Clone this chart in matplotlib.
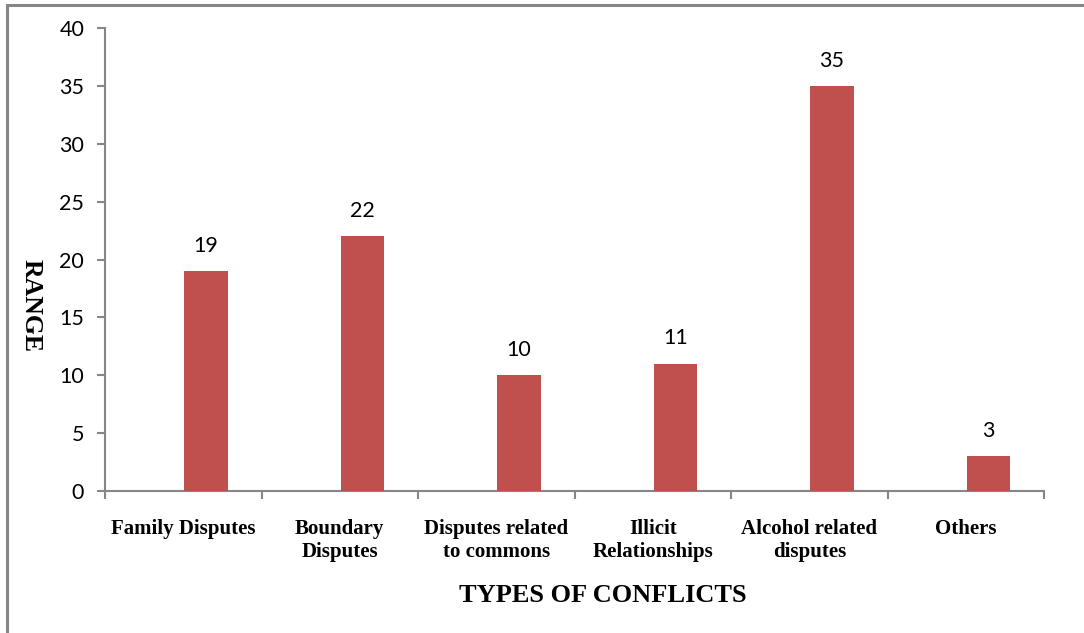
import numpy as np
import matplotlib
matplotlib.use("Agg")
import matplotlib.pyplot as plt
from matplotlib.patches import Rectangle

# conflict types and their counts
categories = ["Family Disputes", "Boundary\nDisputes", "Disputes related\nto commons",
              "Illicit\nRelationships", "Alcohol related\ndisputes", "Others"]
counts = [19, 22, 10, 11, 35, 3]
y_ticks = [0, 5, 10, 15, 20, 25, 30, 35, 40]

bar_color = "#C0504D"
axis_gray = "#868686"
serif = ["Liberation Serif", "DejaVu Serif"]
sans = ["Lato", "DejaVu Sans"]

fig = plt.figure(figsize=(10.84, 6.33), dpi=100)
ax = fig.add_axes([105 / 1084, 1 - 491 / 633, (1044 - 105) / 1084, (491 - 28) / 633])

# frame round the whole chart area (runs off the right and bottom edges)
fig.patches.append(Rectangle((6.5 / 1084, -0.2), 1.2, 1.2 - 4.5 / 633,
                             transform=fig.transFigure, fill=False,
                             edgecolor=axis_gray, linewidth=2.2))

n = len(categories)
x = np.arange(n)
# bars sit right of the category centre
bar_x = x + 0.145
bars = ax.bar(bar_x, counts, width=0.28, color=bar_color, zorder=3)

for bx, v in zip(bar_x, counts):
    ax.annotate(str(v), (bx, v), xytext=(0, 11), textcoords="offset points",
                ha="center", va="bottom", fontsize=15.5, family=sans)

ax.set_xlim(-0.5, n - 0.5)
ax.set_ylim(0, 40)
ax.set_yticks(y_ticks)
ax.set_yticklabels([str(t) for t in y_ticks], fontsize=15.5, family=sans)

# boundary ticks on the major locator, names on the minor one
ax.set_xticks(np.arange(n + 1) - 0.5)
ax.set_xticklabels([])
ax.set_xticks(x, minor=True)
ax.set_xticklabels(categories, minor=True, fontsize=15, fontweight="bold",
                   family=serif, linespacing=1.2)
ax.tick_params(axis="x", which="minor", length=0, pad=20)
ax.tick_params(axis="x", which="major", direction="out", length=6, color=axis_gray, width=1.5)
ax.tick_params(axis="y", direction="out", length=6, color=axis_gray, width=1.5, pad=9)

for side in ["top", "right"]:
    ax.spines[side].set_visible(False)
for side in ["left", "bottom"]:
    ax.spines[side].set_color(axis_gray)
    ax.spines[side].set_linewidth(1.5)

fig.text(603 / 1084, 1 - 596 / 633, "TYPES OF CONFLICTS", ha="center", va="center",
         fontsize=19, fontweight="bold", family=serif)
fig.text(31 / 1084, 1 - 306 / 633, "RANGE", ha="center", va="center", rotation=270,
         fontsize=18.5, fontweight="bold", family=serif)

fig.savefig("out.png", dpi=100)
